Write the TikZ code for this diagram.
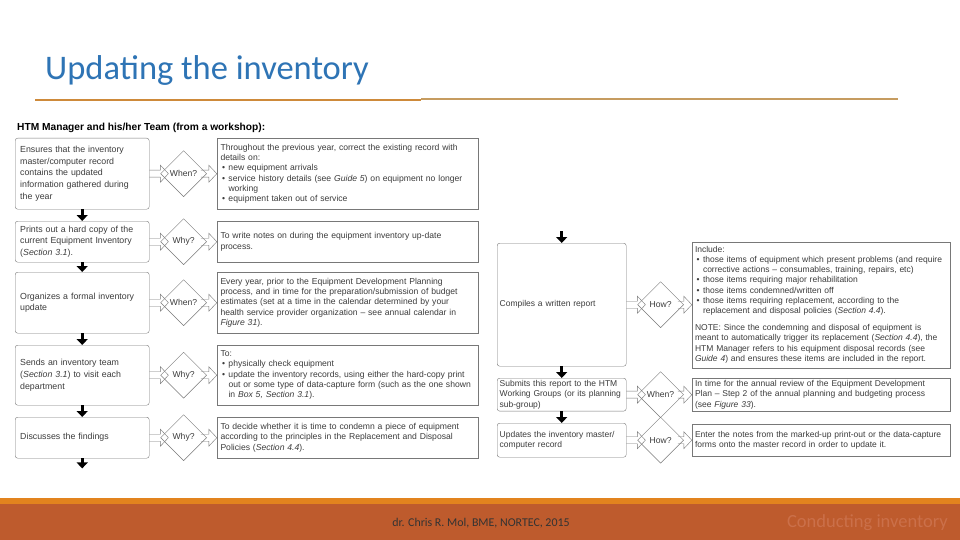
\documentclass[tikz,border=0pt]{standalone}
\usepackage{fontspec}
\setmainfont{Liberation Sans}
\newfontfamily\calib{Carlito}
\usetikzlibrary{arrows.meta,positioning,shapes.geometric,calc}
\definecolor{titleblue}{RGB}{46,116,181}
\definecolor{rule}{RGB}{206,138,58}
\definecolor{rulelight}{RGB}{198,156,96}
\definecolor{frame}{RGB}{120,120,120}
\definecolor{ink}{RGB}{60,60,60}
\definecolor{stripe}{RGB}{226,131,30}
\definecolor{footer}{RGB}{190,91,45}
\definecolor{foottext}{RGB}{203,112,74}
\newcommand\itm{\hspace*{1.5pt}\makebox[6.5pt][l]{\textbullet}}
\newcommand\cont{\hspace*{8pt}}
\tikzset{
  actbox/.style={draw=frame,rounded corners=2.5pt,thin,anchor=north west,align=left,
    text width=#1,inner xsep=5pt,inner ysep=2pt,text=ink,font=\fontsize{8.8}{11.6}\selectfont},
  actbox/.default=124pt,
  rbox/.style={actbox=124pt,inner xsep=2.5pt,font=\fontsize{8.5}{10.5}\selectfont},
  notebox/.style={draw=frame,thin,align=left,text width=#1,inner xsep=3.5pt,inner ysep=2pt,
    text=ink,font=\fontsize{8.6}{10.3}\selectfont},
  notebox/.default=254pt,
  sidenote/.style={notebox=252pt,inner xsep=3pt,font=\fontsize{8.5}{10.2}\selectfont},
  ask/.style={diamond,draw=frame,thin,minimum width=46pt,minimum height=46pt,inner sep=0pt,
    text=ink,font=\fontsize{8.6}{9}\selectfont},
  down/.style={draw=black,line width=3pt,-{Triangle[width=11pt,length=6pt]}},
  hollow/.style={draw=frame,thin,to path={
    ([yshift=3.5pt]\tikztostart) -- ([xshift=-8pt,yshift=3.5pt]\tikztotarget)
    -- ([xshift=-8pt,yshift=8.5pt]\tikztotarget) -- (\tikztotarget)
    -- ([xshift=-8pt,yshift=-8.5pt]\tikztotarget) -- ([xshift=-8pt,yshift=-3.5pt]\tikztotarget)
    -- ([yshift=-3.5pt]\tikztostart)}},
}

\begin{document}
\begin{tikzpicture}[x=1pt,y=-1pt]
  \useasboundingbox (0,0) rectangle (960,540);
  \fill[white] (0,0) rectangle (960,540);
  % slide title and rule
  \node[anchor=base west,inner sep=0,text=titleblue,font=\calib\fontsize{34.5}{40}\selectfont] (title) at (45,80) {Updating the inventory};
  \draw[rule,line width=2pt] (35,100.5) -- (421,100.5);
  \draw[rulelight,line width=2pt] (421,99.5) -- (898,99.5);
  \node[anchor=base west,inner sep=0,font=\bfseries\fontsize{10.2}{12}\selectfont] (head) at (17,131) {HTM Manager and his/her Team (from a workshop):};

  % left column
  \node[actbox,minimum height=71pt] (p1) at (15,138) {Ensures that the inventory\\ master/computer record\\ contains the updated\\ information gathered during\\ the year};
  \node[ask,right=11pt of p1] (q1) {When?};
  \node[notebox,minimum height=71pt,right=10pt of q1] (n1) {Throughout the previous year, correct the existing record with\\ details on:\\
    \itm new equipment arrivals\\
    \itm service history details (see \textit{Guide 5}) on equipment no longer\\ \cont working\\
    \itm equipment taken out of service};

  \node[actbox,minimum height=41pt] (p2) at (15,221) {Prints out a hard copy of the\\ current Equipment Inventory\\ (\textit{Section 3.1}).};
  \node[ask,right=11pt of p2] (q2) {Why?};
  \node[notebox,minimum height=41pt,right=10pt of q2] (n2) {To write notes on during the equipment inventory up-date\\ process.};

  \node[actbox,minimum height=61pt] (p3) at (15,272) {Organizes a formal inventory\\ update};
  \node[ask,right=11pt of p3] (q3) {When?};
  \node[notebox,minimum height=61pt,right=10pt of q3] (n3) {Every year, prior to the Equipment Development Planning\\ process, and in time for the preparation/submission of budget\\ estimates (set at a time in the calendar determined by your\\ health service provider organization -- see annual calendar in\\ \textit{Figure 31}).};

  \node[actbox,minimum height=60pt] (p4) at (15,345) {Sends an inventory team\\ (\textit{Section 3.1}) to visit each\\ department};
  \node[ask,right=11pt of p4] (q4) {Why?};
  \node[notebox,minimum height=60pt,right=10pt of q4] (n4) {To:\\
    \itm physically check equipment\\
    \itm update the inventory records, using either the hard-copy print\\ \cont out or some type of data-capture form (such as the one shown\\ \cont in \textit{Box 5, Section 3.1}).};

  \node[actbox,minimum height=41pt] (p5) at (15,417) {Discusses the findings};
  \node[ask,right=11pt of p5] (q5) {Why?};
  \node[notebox,minimum height=41pt,right=10pt of q5] (n5) {To decide whether it is time to condemn a piece of equipment\\ according to the principles in the Replacement and Disposal\\ Policies (\textit{Section 4.4}).};

  % right column
  \node[rbox,minimum height=123pt] (p6) at (497,243) {Compiles a written report};
  \node[ask,right=11pt of p6] (q6) {How?};
  \node[sidenote,minimum height=126pt,right=8pt of q6] (n6) {Include:\\
    \itm those items of equipment which present problems (and require\\ \cont corrective actions -- consumables, training, repairs, etc)\\
    \itm those items requiring major rehabilitation\\
    \itm those items condemned/written off\\
    \itm those items requiring replacement, according to the\\ \cont replacement and disposal policies (\textit{Section 4.4}).\\[7pt]
    NOTE: Since the condemning and disposal of equipment is\\ meant to automatically trigger its replacement (\textit{Section 4.4}), the\\ HTM Manager refers to his equipment disposal records (see\\ \textit{Guide 4}) and ensures these items are included in the report.};

  \node[rbox,minimum height=32pt] (p7) at (497,378) {Submits this report to the HTM\\ Working Groups (or its planning\\ sub-group)};
  \node[ask,right=11pt of p7] (q7) {When?};
  \node[sidenote,minimum height=33pt,right=8pt of q7] (n7) {In time for the annual review of the Equipment Development\\ Plan -- Step 2 of the annual planning and budgeting process\\ (see \textit{Figure 33}).};

  \node[rbox,minimum height=34pt] (p8) at (497,423) {Updates the inventory master/\\ computer record};
  \node[ask,right=11pt of p8] (q8) {How?};
  \node[sidenote,minimum height=32pt,right=8pt of q8] (n8) {Enter the notes from the marked-up print-out or the data-capture\\ forms onto the master record in order to update it.};

  % connectors
  \foreach \i in {1,...,8}{
    \draw[hollow] (p\i.east) to ($(q\i.west)+(8pt,0)$);
    \draw[hollow] ($(q\i.east)+(-6pt,0)$) to (n\i.west);
  }
  \foreach \a/\b in {1/2,2/3,3/4,4/5,6/7,7/8}
    \draw[down] (p\a.south) -- (p\b.north);
  \coordinate[below=10pt of p5.south] (exit);
  \coordinate[above=12pt of p6.north] (entry);
  \draw[down] (p5.south) -- (exit);
  \draw[down] (entry) -- (p6.north);

  % footer
  \fill[stripe] (0,498) rectangle (960,504);
  \fill[footer] (0,504) rectangle (960,540);
  \node[text=black!80,font=\calib\fontsize{11.9}{13}\selectfont] (credit) at (481,523) {dr. Chris R. Mol, BME, NORTEC, 2015};
  \node[anchor=east,inner sep=0,text=foottext,font=\calib\fontsize{18.5}{20}\selectfont] (topic) at (948,523) {Conducting inventory};
\end{tikzpicture}
\end{document}
